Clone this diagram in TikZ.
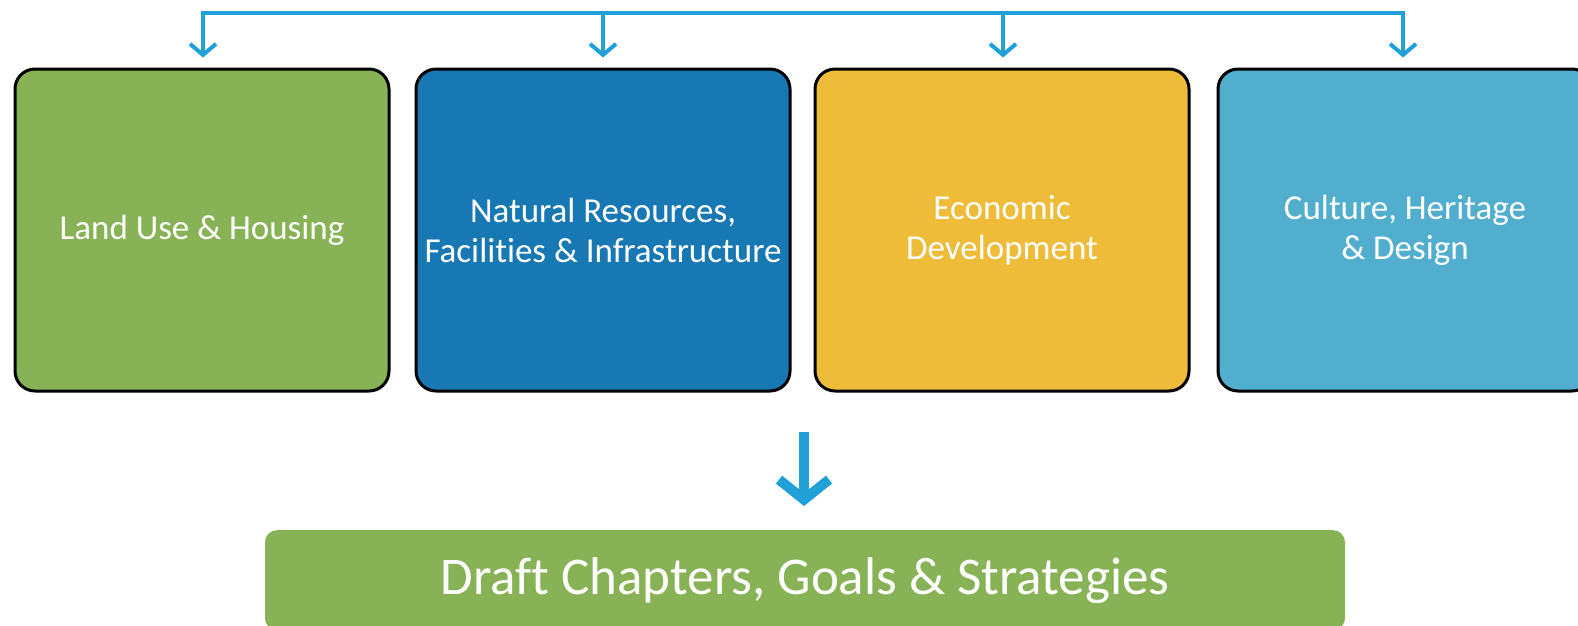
\documentclass[tikz,border=0pt]{standalone}
\usepackage{fontspec}
\setmainfont{Carlito}[Ligatures=NoCommon]
\usetikzlibrary{arrows.meta}
\definecolor{leaf}{RGB}{135,178,85}
\definecolor{ocean}{RGB}{24,120,179}
\definecolor{sun}{RGB}{239,188,57}
\definecolor{sky}{RGB}{82,174,206}
\definecolor{wire}{RGB}{33,160,216}
\tikzset{
  topic/.style={draw=black, line width=3pt, rounded corners=20pt, minimum width=374pt,
    minimum height=322pt, text=white, align=center, font=\fontsize{35}{40}\selectfont},
  wirearrow/.style={draw=wire, line width=4pt, -{Straight Barb[length=11pt,width=26pt]}},
}
\begin{document}
\begin{tikzpicture}[x=1pt, y=-1pt, line join=round]
\useasboundingbox (0,0) rectangle (1578,625);
\clip (0,0) rectangle (1578,625);
\node[topic, fill=leaf]  (land)    at (202,230)  {Land Use \& Housing};
\node[topic, fill=ocean] (natural) at (603,230)  {Natural Resources,\\Facilities \& Infrastructure};
\node[topic, fill=sun]   (econ)    at (1002,230) {Economic\\Development};
\node[topic, fill=sky]   (culture) at (1405,230) {Culture, Heritage\\\& Design};
\node[fill=leaf, rounded corners=12pt, minimum width=1080pt, minimum height=100pt,
  text=white, font=\fontsize{53}{60}\selectfont, anchor=north] (draft) at (805,530)
  {Draft Chapters, Goals \& Strategies};
\coordinate (b1) at (203,13);
\coordinate (b2) at (603,13);
\coordinate (b3) at (1003,13);
\coordinate (b4) at (1403,13);
\coordinate (mid) at (804,432);
\draw[wire, line width=4pt, line cap=rect] (b1) -- (b4);
\draw[wirearrow, shorten >=10pt] (b1) -- (b1 |- land.north);
\draw[wirearrow, shorten >=10pt] (b2) -- (b2 |- natural.north);
\draw[wirearrow, shorten >=10pt] (b3) -- (b3 |- econ.north);
\draw[wirearrow, shorten >=10pt] (b4) -- (b4 |- culture.north);
\draw[wirearrow, line width=10pt, -{Straight Barb[length=20pt,width=50pt]}, shorten >=24pt]
  (mid) -- (mid |- draft.north);
\end{tikzpicture}
\end{document}
